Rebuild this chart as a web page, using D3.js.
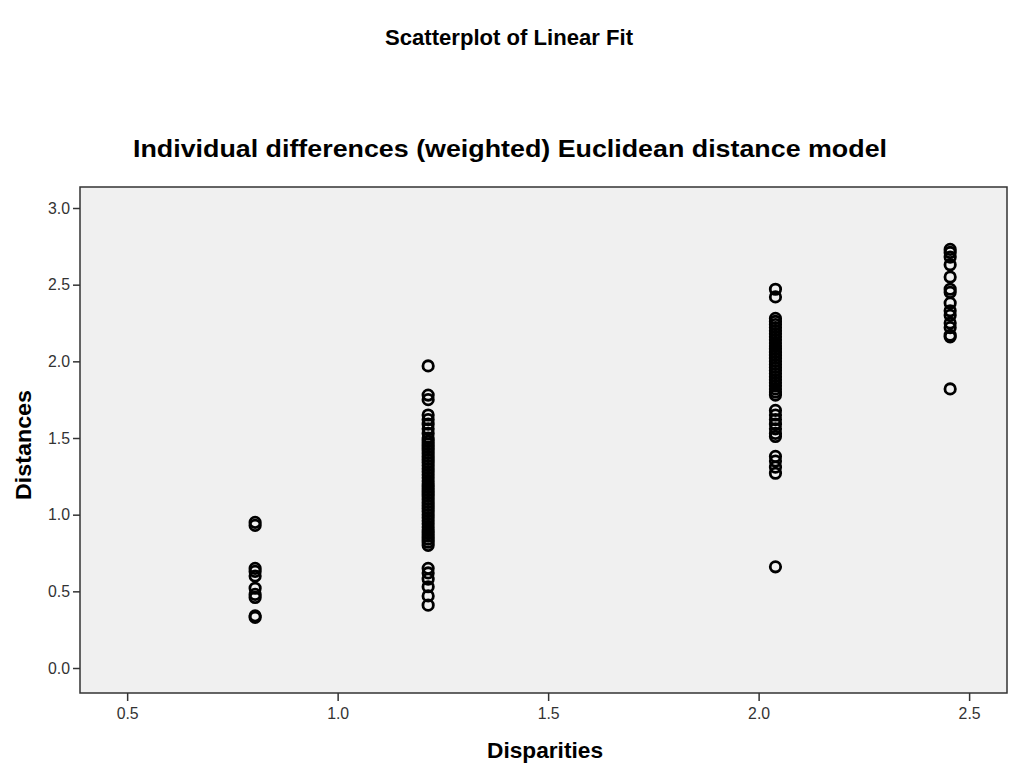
<!DOCTYPE html>
<html>
<head>
<meta charset="utf-8">
<script src="https://cdn.jsdelivr.net/npm/d3@7"></script>
<style>
html,body{margin:0;padding:0;background:#fff;}
svg text{font-family:"Liberation Sans",Arial,sans-serif;}
</style>
</head>
<body>
<svg id="chart" width="1009" height="763"></svg>
<script>
const mainTitle = "Scatterplot of Linear Fit";
const subTitle = "Individual differences (weighted) Euclidean distance model";
const xLabel = "Disparities";
const yLabel = "Distances";
const xTicks = [0.5, 1.0, 1.5, 2.0, 2.5];
const yTicks = [0.0, 0.5, 1.0, 1.5, 2.0, 2.5, 3.0];

// Disparity groups (x) and their distances (y)
const disparities = [0.804, 1.215, 2.04, 2.455];
const distGroup1 = [0.95, 0.93, 0.65, 0.63, 0.60, 0.52, 0.48, 0.46, 0.34, 0.33];
const distGroup2 = [1.97, 1.78, 1.75, 1.65, 1.62, 1.59, 1.56, 1.53, 1.50, 1.48, 1.46, 1.44, 1.42,
                    1.40, 1.38, 1.36, 1.34, 1.32, 1.30, 1.28, 1.26, 1.24, 1.22, 1.20, 1.18,
                    1.16, 1.14, 1.12, 1.10, 1.08, 1.06, 1.04, 1.02, 1.00, 0.98, 0.96, 0.94,
                    0.92, 0.90, 0.88, 0.86, 0.84, 0.82, 0.80, 0.65, 0.62, 0.58, 0.53, 0.47, 0.41];
const distGroup3 = [2.47, 2.42, 2.28, 2.26, 2.24, 2.22, 2.20, 2.18, 2.16, 2.14, 2.12, 2.10,
                    2.08, 2.06, 2.04, 2.02, 2.00, 1.98, 1.96, 1.94, 1.92, 1.90, 1.88, 1.86,
                    1.84, 1.82, 1.80, 1.78, 1.68, 1.65, 1.62, 1.59, 1.56, 1.53, 1.51,
                    1.38, 1.35, 1.31, 1.27, 0.66];
const distGroup4 = [2.73, 2.71, 2.68, 2.63, 2.55, 2.47, 2.45, 2.38, 2.33, 2.30, 2.25, 2.22,
                    2.17, 2.16, 1.82];
const distGroups = [distGroup1, distGroup2, distGroup3, distGroup4];

const points = [];
distGroups.forEach((g, i) => g.forEach(v => points.push({x: disparities[i], y: v})));

const svg = d3.select("#chart");
const box = {left: 80, top: 187, right: 1007, bottom: 693};

const x = d3.scaleLinear().domain([0.388, 2.59]).range([box.left, box.right]);
const y = d3.scaleLinear().domain([-0.163, 3.137]).range([box.bottom, box.top]);

svg.append("rect")
  .attr("x", box.left).attr("y", box.top)
  .attr("width", box.right - box.left).attr("height", box.bottom - box.top)
  .attr("fill", "#f0f0f0");

// axes
const yAxis = svg.append("g")
  .attr("transform", `translate(${box.left},0)`)
  .call(d3.axisLeft(y).tickValues(yTicks).tickFormat(d3.format(".1f")).tickSize(7).tickSizeOuter(0));
const xAxis = svg.append("g")
  .attr("transform", `translate(0,${box.bottom})`)
  .call(d3.axisBottom(x).tickValues(xTicks).tickFormat(d3.format(".1f")).tickSize(8).tickSizeOuter(0));
[xAxis, yAxis].forEach(a => {
  a.select(".domain").remove();
  a.selectAll(".tick line").attr("stroke", "#333").attr("stroke-width", 1.5);
  a.selectAll(".tick text").attr("fill", "#333").style("font-size", "16px")
    .attr("textLength", 22).attr("lengthAdjust", "spacingAndGlyphs")
    .style("font-family", "'Liberation Sans',Arial,sans-serif");
});
yAxis.selectAll(".tick text").attr("x", -10);
xAxis.selectAll(".tick text").attr("y", 15);

// points
svg.append("g").selectAll("circle").data(points).join("circle")
  .attr("cx", d => x(d.x)).attr("cy", d => y(d.y))
  .attr("r", 5.2)
  .attr("fill", "none").attr("stroke", "#000").attr("stroke-width", 2.8);

// frame
svg.append("rect")
  .attr("x", box.left).attr("y", box.top)
  .attr("width", box.right - box.left).attr("height", box.bottom - box.top)
  .attr("fill", "none").attr("stroke", "#333").attr("stroke-width", 1.5);

// titles
svg.append("text").attr("x", 509).attr("y", 45).attr("text-anchor", "middle")
  .attr("textLength", 248).attr("lengthAdjust", "spacingAndGlyphs")
  .style("font-size", "22px").style("font-weight", "bold").attr("fill", "#000").text(mainTitle);
svg.append("text").attr("x", 510).attr("y", 157).attr("text-anchor", "middle")
  .attr("textLength", 754).attr("lengthAdjust", "spacingAndGlyphs")
  .style("font-size", "23px").style("font-weight", "bold").attr("fill", "#000").text(subTitle);
svg.append("text").attr("x", 545).attr("y", 758).attr("text-anchor", "middle")
  .attr("textLength", 116).attr("lengthAdjust", "spacingAndGlyphs")
  .style("font-size", "22px").style("font-weight", "bold").attr("fill", "#000").text(xLabel);
svg.append("text").attr("transform", "translate(31,445) rotate(-90)").attr("text-anchor", "middle")
  .attr("textLength", 110).attr("lengthAdjust", "spacingAndGlyphs")
  .style("font-size", "22px").style("font-weight", "bold").attr("fill", "#000").text(yLabel);
</script>
</body>
</html>
